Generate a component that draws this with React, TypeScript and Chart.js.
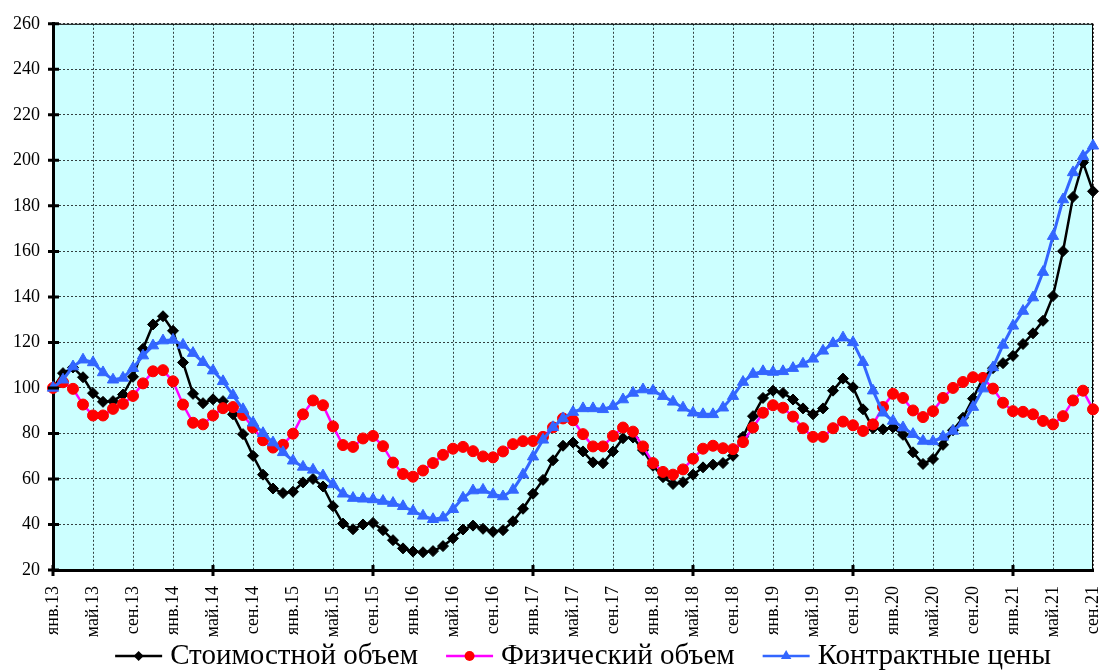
import React, { useEffect, useRef } from 'react';
import { Chart, registerables } from 'chart.js';

Chart.register(...registerables);

// --- data ---
const monthNames = ['янв', 'фев', 'мар', 'апр', 'май', 'июн', 'июл', 'авг', 'сен', 'окт', 'ноя', 'дек'];
const years = ['13', '14', '15', '16', '17', '18', '19', '20', '21'];
const lastLabel = 'сен.21';

const months: string[] = [];
for (const y of years) {
    for (const m of monthNames) {
        months.push(`${m}.${y}`);
        if (`${m}.${y}` === lastLabel) break;
    }
}

const valueVolume = [
    100, 106.5, 109, 104.7, 97.7, 93.9, 94.2, 97.1, 104.9, 117.2, 127.9, 131.5,
    125.1, 111.2, 97.4, 93.3, 95, 94.2, 88.4, 79.7, 70.2, 61.9, 55.8, 53.8,
    54.4, 58.5, 60, 56.7, 48, 40.4, 37.9, 40, 40.7, 37.5, 33.1, 29.5,
    28.1, 27.8, 28.3, 30.5, 33.9, 37.8, 39.5, 38.1, 36.8, 37.5, 41.4, 46.9,
    53.5, 59.6, 68.2, 74.6, 76, 72.1, 67.3, 66.9, 72.1, 77.9, 78.2, 72.7,
    65.8, 60.8, 57.8, 58.6, 61.9, 65.1, 66.3, 67, 70.2, 78.5, 87.6, 95.6,
    98.8, 97.8, 94.9, 91, 88.4, 91, 98.8, 104.1, 100.3, 90.6, 82.3, 81.8,
    82.6, 79.4, 71.7, 66.6, 68.8, 75, 81.4, 86.9, 95.3, 104.4, 108.7, 110.9,
    114.1, 119.3, 124, 129.5, 140.4, 160.1, 183.9, 199.1, 186.4,
];

const physicalVolume = [
    100, 102.5, 99.6, 92.7, 87.9, 87.9, 90.8, 93, 96.5, 102, 107.3, 107.8,
    102.9, 92.7, 84.7, 84, 87.9, 91.1, 91.6, 88.1, 82.6, 77, 73.8, 75,
    79.9, 88.4, 94.5, 92.4, 83.1, 74.9, 74.1, 77.8, 78.9, 74.4, 67.2, 62.2,
    61, 63.7, 67, 70.6, 73.3, 74.1, 72.2, 69.9, 69.5, 72.1, 75.3, 76.6,
    76.7, 78.5, 82.7, 86.6, 85.8, 79.7, 74.3, 74.3, 78.9, 82.6, 80.8, 74.3,
    67, 63.1, 61.9, 64.2, 68.9, 73.3, 74.6, 73.5, 73.1, 76.2, 82.6, 89.1,
    92.4, 91.3, 87.4, 82.3, 78.5, 78.5, 82.3, 85.2, 83.6, 81.1, 84, 91.6,
    97.4, 95.6, 90.1, 87.2, 89.8, 95.6, 100, 102.6, 104.7, 104.4, 99.7, 93.5,
    89.8, 89.5, 88.4, 85.5, 84, 87.6, 94.5, 98.8, 90.6,
];

const contractPrices = [
    100, 103.6, 109.4, 112.4, 111.2, 106.8, 103.6, 104.4, 108.7, 114.2, 118.6, 120.8,
    121.1, 118.9, 115.3, 111.3, 107.6, 102.9, 96.8, 90.6, 84.7, 80.1, 76, 71.7,
    68, 65.3, 64, 61.5, 57.6, 53.5, 51.6, 51.3, 51, 50.3, 49.4, 48,
    45.9, 43.8, 42.3, 43, 46.7, 51.7, 54.9, 55.2, 53.2, 52.3, 55.2, 61.9,
    69.8, 77.2, 82.7, 86.6, 89.4, 91, 91, 90.6, 92, 94.9, 97.8, 99.3,
    98.8, 96.4, 93.9, 91.3, 89.1, 88.4, 88.4, 91.3, 96.4, 102.6, 106.1, 107.3,
    107, 107.3, 108.7, 110.6, 112.8, 116.3, 119.6, 122.1, 120, 111.3, 98.8, 89.1,
    85.5, 82.6, 79.7, 76.7, 76.5, 78.5, 81.1, 84.7, 91.6, 99.7, 109, 118.9,
    127.3, 133.8, 139.7, 150.9, 166.7, 182.8, 194.7, 201.8, 206.4,
];

const seriesNames = ['Стоимостной объем', 'Физический объем', 'Контрактные цены'];

const FONT = "'Liberation Serif', 'Times New Roman', serif";
const LABEL_STEP = 4;

// legend geometry
const LEGEND_CX = 583;
const LEGEND_Y = 656;
const ICON_W = 47;
const ICON_GAP = 8;
const ITEM_GAP = 28;

function drawMarker(ctx, style: string, x: number, y: number, r: number) {
    ctx.beginPath();
    if (style === 'rectRot') {
        ctx.moveTo(x, y - r);
        ctx.lineTo(x + r, y);
        ctx.lineTo(x, y + r);
        ctx.lineTo(x - r, y);
    } else if (style === 'triangle') {
        ctx.moveTo(x, y - r);
        ctx.lineTo(x + r * 0.87, y + r * 0.5);
        ctx.lineTo(x - r * 0.87, y + r * 0.5);
    } else {
        ctx.arc(x, y, r, 0, Math.PI * 2);
    }
    ctx.closePath();
    ctx.fill();
}

const chartDecor = {
    id: 'chartDecor',
    beforeDraw(chart) {
        const { ctx, chartArea: a } = chart;
        ctx.save();
        ctx.fillStyle = '#CCFFFF';
        ctx.fillRect(a.left, a.top, a.right - a.left, a.bottom - a.top);
        ctx.restore();
    },
    beforeDatasetsDraw(chart) {
        const { ctx, chartArea: a } = chart;
        ctx.save();
        ctx.strokeStyle = '#000';
        ctx.lineWidth = 1;
        ctx.beginPath();
        ctx.moveTo(a.left, a.top + 0.5);
        ctx.lineTo(a.right, a.top + 0.5);
        ctx.moveTo(a.right - 0.5, a.top);
        ctx.lineTo(a.right - 0.5, a.bottom);
        ctx.stroke();
        ctx.restore();
    },
    afterDraw(chart) {
        const { ctx, chartArea: a, scales } = chart;
        ctx.save();
        // ticks crossing the axes
        ctx.strokeStyle = '#000';
        ctx.lineWidth = 3;
        ctx.beginPath();
        scales.y.ticks.forEach((t, i) => {
            const y = scales.y.getPixelForTick(i);
            ctx.moveTo(a.left - 5, y);
            ctx.lineTo(a.left + 6, y);
        });
        scales.x.ticks.forEach((t, i) => {
            if (i % LABEL_STEP !== 0) return;
            const x = scales.x.getPixelForTick(i);
            ctx.moveTo(x, a.bottom - 5);
            ctx.lineTo(x, a.bottom + 6);
        });
        ctx.stroke();

        // legend: line + marker, then the label
        ctx.font = `29px ${FONT}`;
        ctx.textBaseline = 'middle';
        const items = chart.data.datasets.map((ds) => ({ ds, w: ctx.measureText(ds.label).width }));
        const total = items.reduce((s, it) => s + ICON_W + ICON_GAP + it.w, 0) + ITEM_GAP * (items.length - 1);
        let x = LEGEND_CX - total / 2;
        items.forEach(({ ds, w }) => {
            ctx.strokeStyle = ds.borderColor;
            ctx.lineWidth = 2.5;
            ctx.beginPath();
            ctx.moveTo(x, LEGEND_Y);
            ctx.lineTo(x + ICON_W, LEGEND_Y);
            ctx.stroke();
            ctx.fillStyle = ds.pointBackgroundColor;
            drawMarker(ctx, ds.pointStyle, x + ICON_W / 2, LEGEND_Y, ds.pointStyle === 'triangle' ? 6 : 5);
            x += ICON_W + ICON_GAP;
            ctx.fillStyle = '#000';
            ctx.fillText(ds.label, x, LEGEND_Y);
            x += w + ITEM_GAP;
        });
        ctx.restore();
    },
};

export default function App() {
    const chartRef = useRef<HTMLCanvasElement>(null);

    useEffect(() => {
        const chartInstance = new Chart(chartRef.current!, {
            type: 'line',
            data: {
                labels: months,
                datasets: [
                    {
                        label: seriesNames[0],
                        data: valueVolume,
                        borderColor: '#000000',
                        borderWidth: 2.5,
                        pointStyle: 'rectRot',
                        pointRadius: 5.5,
                        pointBackgroundColor: '#000000',
                        pointBorderColor: '#000000',
                        pointBorderWidth: 1,
                        order: 2,
                    },
                    {
                        label: seriesNames[1],
                        data: physicalVolume,
                        borderColor: '#FF00FF',
                        borderWidth: 2.5,
                        pointStyle: 'circle',
                        pointRadius: 5.5,
                        pointBackgroundColor: '#FF0000',
                        pointBorderColor: '#FF0000',
                        pointBorderWidth: 1,
                        order: 1,
                    },
                    {
                        label: seriesNames[2],
                        data: contractPrices,
                        borderColor: '#3366FF',
                        borderWidth: 3,
                        pointStyle: 'triangle',
                        pointRadius: 6.5,
                        pointBackgroundColor: '#3366FF',
                        pointBorderColor: '#3366FF',
                        pointBorderWidth: 1,
                        order: 0,
                    },
                ],
            },
            options: {
                animation: false,
                responsive: true,
                maintainAspectRatio: false,
                layout: { padding: { top: 19, right: 9, left: 0, bottom: 30 } },
                plugins: {
                    tooltip: { enabled: false },
                    legend: { display: false },
                },
                scales: {
                    x: {
                        afterFit: (scale) => {
                            scale.height = 70;
                            scale.paddingLeft = 0;
                            scale.paddingRight = 0;
                        },
                        grid: {
                            color: 'rgba(0,0,0,0.75)',
                            lineWidth: 1,
                            drawTicks: false,
                        },
                        border: { color: '#000', width: 3, dash: [2, 2] },
                        ticks: {
                            autoSkip: false,
                            minRotation: 90,
                            maxRotation: 90,
                            padding: 16,
                            color: '#000',
                            font: { family: FONT, size: 18 },
                            callback: (v, i) => (i % LABEL_STEP === 0 ? months[i] : null),
                        },
                    },
                    y: {
                        min: 20,
                        max: 260,
                        afterFit: (scale) => { scale.width = 53; },
                        grid: {
                            color: 'rgba(0,0,0,0.75)',
                            lineWidth: 1,
                            drawTicks: false,
                        },
                        border: { color: '#000', width: 3, dash: [2, 2] },
                        ticks: {
                            stepSize: 20,
                            padding: 13,
                            color: '#000',
                            font: { family: FONT, size: 18 },
                        },
                    },
                },
            },
            plugins: [chartDecor],
        });

        return () => {
            chartInstance.destroy();
        };
    }, []);

    return (
        <div style={{ position: 'fixed', left: 0, top: 0, width: 1102, height: 670, background: '#fff' }}>
            <canvas ref={chartRef} />
        </div>
    );
}
